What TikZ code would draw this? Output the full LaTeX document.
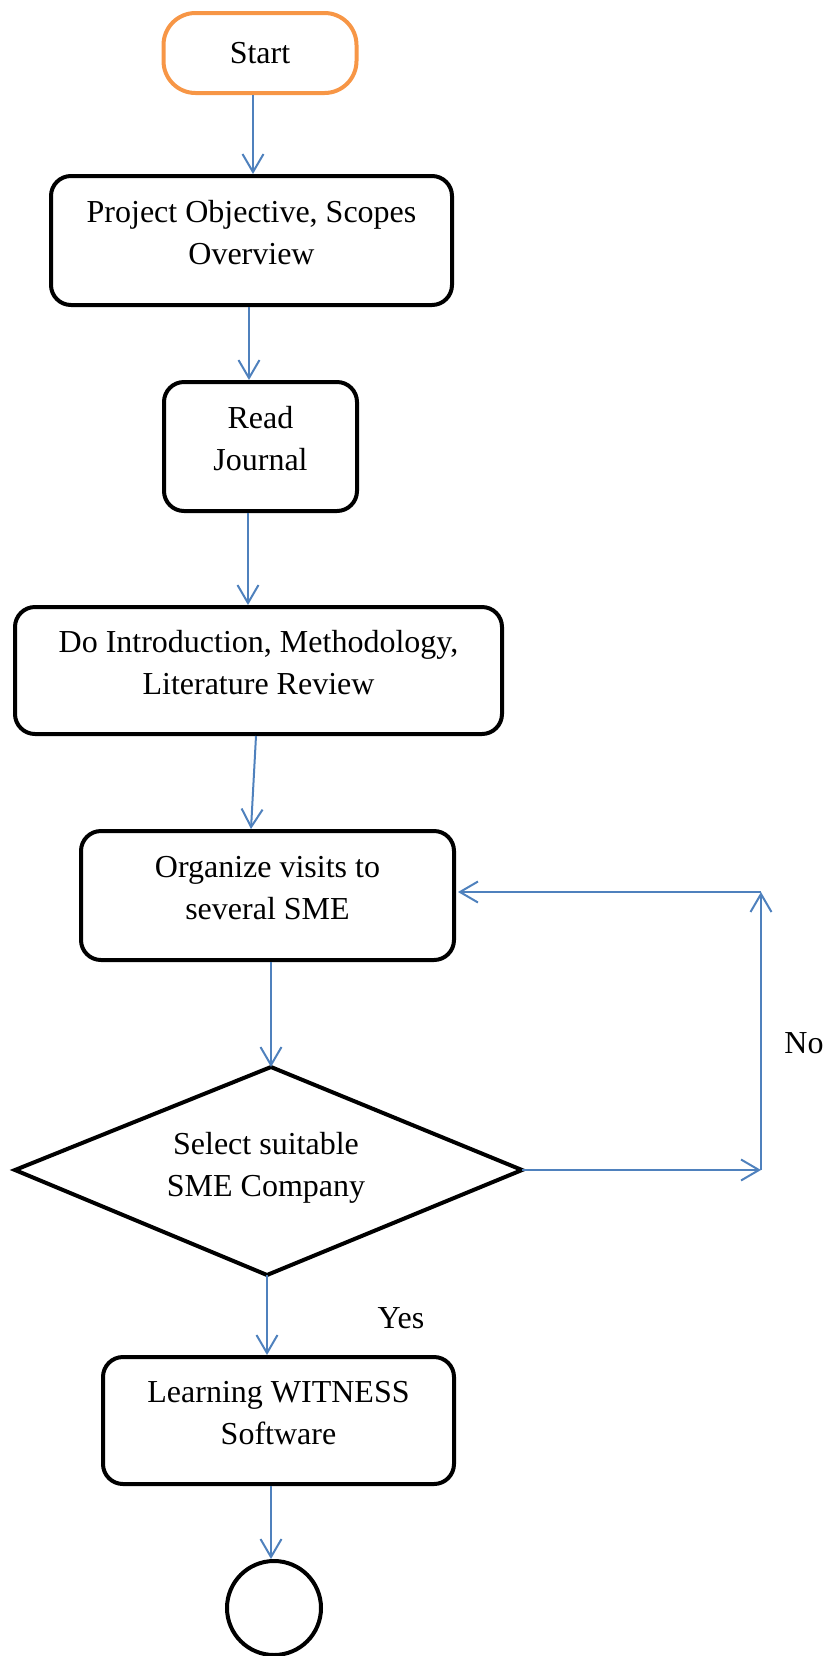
\documentclass[tikz,border=0pt]{standalone}
\usepackage{fontspec}
\setmainfont{Liberation Serif}
\usetikzlibrary{arrows.meta,calc}
\definecolor{flowblue}{RGB}{79,129,189}
\definecolor{startorange}{RGB}{247,150,70}
\begin{document}
\begin{tikzpicture}[x=0.5pt,y=-0.5pt,
  every node/.style={font=\fontsize{16}{21}\selectfont,align=center,inner sep=0pt},
  procbox/.style={draw,line width=2pt,rounded corners=10pt,text depth=8pt},
  flow/.style={draw=flowblue,line width=1pt,-{Straight Barb[length=9pt,width=10.5pt]}}]
\useasboundingbox (0,0) rectangle (828,1656);
\pgfmathsetmacro{\bh}{64.5}
\node[draw=startorange,line width=2pt,rounded corners=16pt,minimum width=96.5pt,minimum height=40pt] (start) at (260,53) {Start};
\node[procbox,minimum width=200.5pt,minimum height=\bh pt] (objective) at (251.5,240.5) {Project Objective, Scopes\\Overview};
\node[procbox,minimum width=96.5pt,minimum height=\bh pt] (journal) at (260.5,446.5) {Read\\Journal};
\node[procbox,minimum width=243.5pt,minimum height=63.5pt] (intro) at (258.5,670.5) {Do Introduction, Methodology,\\Literature Review};
\node[procbox,minimum width=186.5pt,minimum height=\bh pt] (visits) at (267.5,895.5) {Organize visits to\\several SME};
% decision diamond drawn by its corners
\node (select) at (266,1168) {Select suitable\\SME Company};
\coordinate (seltop) at (271,1067);
\coordinate (selright) at (522,1170);
\coordinate (selbot) at (267,1275);
\coordinate (selleft) at (15,1170);
\draw[line width=2pt,line join=miter] (seltop) -- (selright) -- (selbot) -- (selleft) -- cycle;
\node[procbox,minimum width=175.5pt,minimum height=63.5pt] (witness) at (278.5,1420.5) {Learning WITNESS\\Software};
\node[draw,line width=2pt,circle,minimum size=47pt] (stop) at (274,1608) {};
\coordinate (nodown) at (761,1170);
\coordinate (noup) at (761,892);
\draw[flow] (start.south -| 253,0) -- (objective.north -| 253,0);
\draw[flow] (objective.south -| 249,0) -- (journal.north -| 249,0);
\draw[flow] (journal.south -| 248,0) -- (intro.north -| 248,0);
\draw[flow] (intro.south -| 256,0) -- (visits.north -| 251,0);
\draw[flow] (visits.south -| seltop) -- (seltop);
\draw[flow] (selbot) -- (selbot |- witness.north);
\draw[flow] (witness.south -| 271,0) -- (stop.north -| 271,0);
\draw[flow] (selright) -- (nodown);
\draw[flow] (nodown) -- (noup);
\draw[flow] (noup) -- ([xshift=1pt]visits.east |- noup);
\node (nolabel) at (804,1043) {No};
\node (yeslabel) at (401,1318) {Yes};
\end{tikzpicture}
\end{document}
